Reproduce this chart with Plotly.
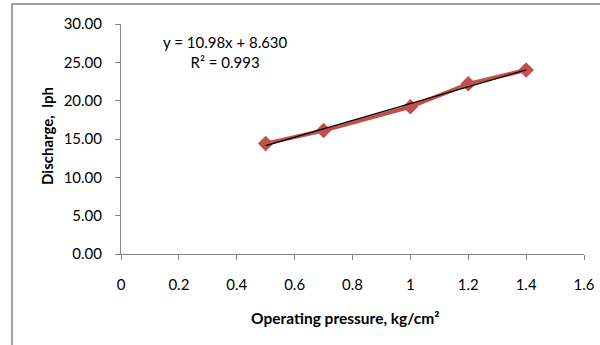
import numpy as np
import plotly.graph_objects as go

pressure = [0.5, 0.7, 1.0, 1.2, 1.4]
discharge = [14.4, 16.1, 19.2, 22.2, 24.0]
x_ticks = [0, 0.2, 0.4, 0.6, 0.8, 1.0, 1.2, 1.4, 1.6]
x_tick_labels = ["0", "0.2", "0.4", "0.6", "0.8", "1", "1.2", "1.4", "1.6"]
y_ticks = [0, 5, 10, 15, 20, 25, 30]
y_tick_labels = ["0.00", "5.00", "10.00", "15.00", "20.00", "25.00", "30.00"]

slope, intercept = np.polyfit(pressure, discharge, 1)
trend_x = [min(pressure), max(pressure)]
trend_y = [slope * v + intercept for v in trend_x]

FONT = "Lato, 'Open Sans', sans-serif"

fig = go.Figure()
fig.add_trace(go.Scatter(
    x=pressure, y=discharge, mode="lines+markers",
    line=dict(color="#C0504D", width=4),
    marker=dict(symbol="diamond", size=12, color="#C0504D"),
    showlegend=False,
))
fig.add_trace(go.Scatter(
    x=trend_x, y=trend_y, mode="lines",
    line=dict(color="black", width=1.3),
    showlegend=False,
))

axis_common = dict(
    showgrid=False, zeroline=False, showline=True, linecolor="#868686",
    linewidth=1, ticks="outside", ticklen=5, tickcolor="#868686",
    tickfont=dict(family=FONT, size=15, color="black"), automargin=False,
)
fig.update_xaxes(range=[0, 1.6], tickvals=x_ticks, ticktext=x_tick_labels,
                 ticklabelstandoff=12, **axis_common)
fig.update_yaxes(range=[0, 30], tickvals=y_ticks, ticktext=y_tick_labels,
                 ticklabelstandoff=10, **axis_common)

fig.add_annotation(x=-0.160, y=0.513, xref="paper", yref="paper",
                   xanchor="center", yanchor="middle",
                   text="<b>Discharge,  lph</b>", textangle=-90, showarrow=False,
                   font=dict(family=FONT, size=15, color="black"))
fig.add_annotation(x=0.484, y=-0.278, xref="paper", yref="paper",
                   xanchor="center", yanchor="middle",
                   text="<b>Operating pressure, kg/cm²</b>", showarrow=False,
                   font=dict(family=FONT, size=15.5, color="black"))

fig.add_annotation(x=0.36, y=26.3, xref="x", yref="y",
                   xanchor="center", yanchor="middle",
                   text="y = 10.98x + 8.630<br>R² = 0.993", showarrow=False,
                   font=dict(family=FONT, size=15, color="black"), align="center")

fig.add_shape(type="rect", xref="paper", yref="paper",
              x0=-0.2354, x1=1.2, y0=-0.6, y1=1.087,
              line=dict(color="#A0A0A0", width=2), layer="below")

fig.update_layout(
    width=600, height=345,
    margin=dict(l=121, r=16, t=24, b=91),
    paper_bgcolor="white", plot_bgcolor="white",
)
fig.write_html("out.html", config={"displayModeBar": False},
               post_script="document.body.style.margin='0';")
